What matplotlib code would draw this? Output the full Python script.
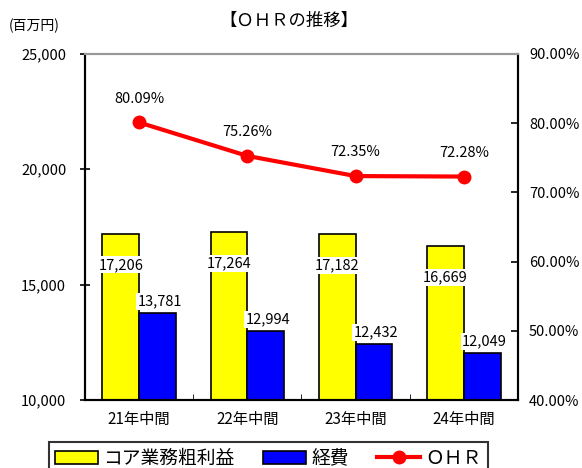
import matplotlib.pyplot as plt
import numpy as np

plt.rcParams['font.family'] = ['Noto Sans CJK JP', 'DejaVu Sans']

periods = ['21年中間', '22年中間', '23年中間', '24年中間']
core_profit = [17206, 17264, 17182, 16669]
expenses = [13781, 12994, 12432, 12049]
ohr = [80.09, 75.26, 72.35, 72.28]

fig = plt.figure(figsize=(5.82, 4.68), dpi=100)
ax = fig.add_axes([0.146, 0.145, 0.744, 0.74])
ax2 = ax.twinx()

x = np.arange(len(periods))
w = 0.34
b1 = ax.bar(x - w / 2, core_profit, w, color='#ffff00', edgecolor='black', linewidth=1.2, label='コア業務粗利益')
b2 = ax.bar(x + w / 2, expenses, w, color='#0000ff', edgecolor='black', linewidth=1.2, label='経費')

ax.set_ylim(10000, 25000)
ax.set_yticks([10000, 15000, 20000, 25000])
ax.set_yticklabels(['{:,}'.format(v) for v in [10000, 15000, 20000, 25000]], fontsize=10.5)
ax.set_xlim(-0.5, len(periods) - 0.5)
ax.set_xticks(x)
ax.set_xticklabels(periods, fontsize=11)
ax.tick_params(axis='x', length=0, pad=8)
ax.set_xticks(np.arange(-0.5, len(periods), 1), minor=True)
ax.tick_params(axis='x', which='minor', direction='in', length=4)
ax.tick_params(axis='y', direction='inout', length=7, width=1.2, pad=10)

for i, v in enumerate(core_profit):
    ax.text(x[i] - w / 2, v - 1350, '{:,}'.format(v), ha='center', va='center', fontsize=10.5,
            bbox=dict(facecolor='white', edgecolor='none', pad=1))
for i, v in enumerate(expenses):
    ax.text(x[i] + w / 2 + 0.02, v + 200, '{:,}'.format(v), ha='center', va='bottom', fontsize=10.5,
            bbox=dict(facecolor='white', edgecolor='none', pad=1))

l1, = ax2.plot(x, ohr, color='#ff0000', linewidth=3, marker='o', markersize=9, label='ＯＨＲ')
ax2.set_ylim(40, 90)
ax2.set_yticks([40, 50, 60, 70, 80, 90])
ax2.set_yticklabels(['{:.2f}%'.format(v) for v in [40, 50, 60, 70, 80, 90]], fontsize=10.5)
ax2.tick_params(axis='y', direction='in', length=5, width=1.2, pad=8)
for i, v in enumerate(ohr):
    ax2.annotate('{:.2f}%'.format(v), (x[i], v), xytext=(0, 12), textcoords='offset points',
                 ha='center', va='bottom', fontsize=10.5)

for a in (ax, ax2):
    for s in ['left', 'right', 'bottom']:
        a.spines[s].set_linewidth(1.5)
    a.spines['top'].set_color('#999999')
    a.spines['top'].set_linewidth(1.5)

fig.text(0.497, 0.955, '【ＯＨＲの推移】', ha='center', va='center', fontsize=12.5)
fig.text(0.015, 0.945, '(百万円)', ha='left', va='center', fontsize=10)

leg = fig.legend(handles=[b1, b2, l1], loc='lower left', bbox_to_anchor=(0.084, -0.014),
                 ncol=3, fontsize=13.5, frameon=True, fancybox=False, edgecolor='black',
                 borderpad=0.3, handlelength=2.3, handletextpad=0.3, columnspacing=1.5,
                 borderaxespad=0)
leg.get_frame().set_linewidth(1.5)

fig.savefig('out.png', dpi=100)
